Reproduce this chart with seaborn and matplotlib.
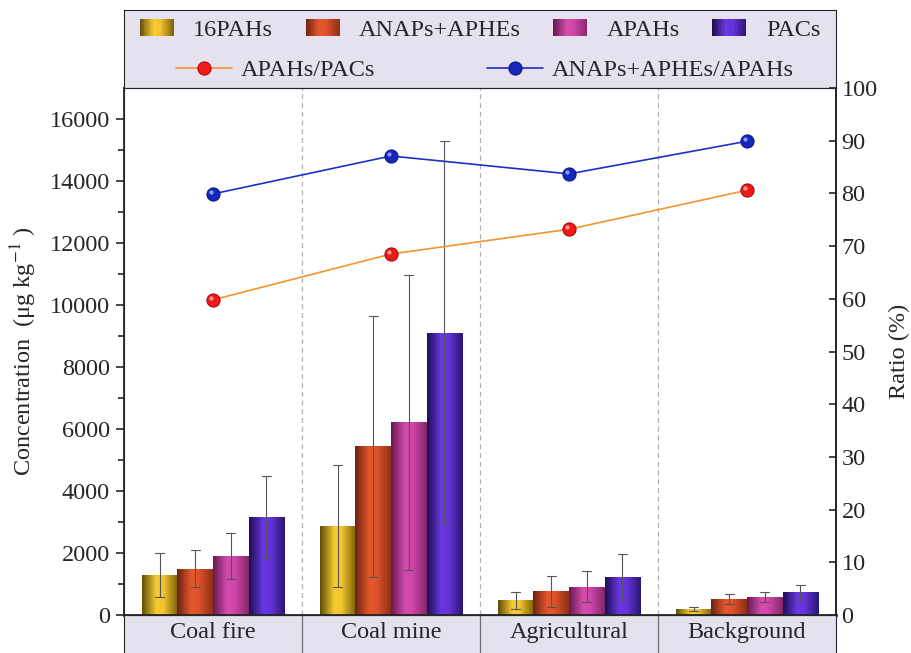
import matplotlib
matplotlib.use("Agg")
import matplotlib.pyplot as plt
import seaborn as sns
import numpy as np
import pandas as pd
from matplotlib.colors import LinearSegmentedColormap
from matplotlib.legend_handler import HandlerBase
from matplotlib.patches import Rectangle
from matplotlib.transforms import ScaledTranslation

sites = ["Coal fire", "Coal mine", "Agricultural", "Background"]
groups = ["16PAHs", "ANAPs+APHEs", "APAHs", "PACs"]

# mean concentrations (ug/kg), site order
pahs16 = [1280, 2870, 480, 200]
anaps_aphes = [1500, 5440, 760, 515]
apahs = [1890, 6220, 910, 580]
pacs = [3160, 9110, 1230, 730]

# error bar half-widths
pahs16_err = [715, 1980, 275, 70]
anaps_aphes_err = [610, 4220, 505, 170]
apahs_err = [740, 4760, 500, 165]
pacs_err = [1330, 6190, 745, 230]

# ratios (%)
ratio_apahs_pacs = [59.8, 68.5, 73.2, 80.6]
ratio_anaps_apahs = [79.9, 87.1, 83.7, 89.9]
ratio_labels = ["APAHs/PACs", "ANAPs+APHEs/APAHs"]

# bar shading: dark edge -> bright -> dark edge
shades = [
    ["#5e4c06", "#f6cb33", "#f3c52e", "#7c600a"],
    ["#6a2210", "#e4572e", "#df532b", "#8c3015"],
    ["#681850", "#d44cae", "#cf47a8", "#84266c"],
    ["#1c0e52", "#6a38e4", "#6533dc", "#2a176e"],
]
cmaps = [LinearSegmentedColormap.from_list(g, list(zip([0, 0.4, 0.6, 1], c)))
         for g, c in zip(groups, shades)]

lavender = "#e6e1ef"

sns.set_style("ticks")
plt.rcParams["font.family"] = ["Liberation Serif", "DejaVu Serif"]
plt.rcParams["mathtext.fontset"] = "stix"
FS = 17.5

rows = []
for g, means, errs in zip(groups, [pahs16, anaps_aphes, apahs, pacs],
                          [pahs16_err, anaps_aphes_err, apahs_err, pacs_err]):
    for s, m, e in zip(sites, means, errs):
        rows.append((s, g, m - e))
        rows.append((s, g, m + e))
df = pd.DataFrame(rows, columns=["site", "group", "value"])

W, H = 912, 653
L, R, T, B = 124, 836, 88, 615
fig = plt.figure(figsize=(W / 100, H / 100), dpi=100)
ax = fig.add_axes([L / W, (H - B) / H, (R - L) / W, (B - T) / H])
ax_h = fig.add_axes([L / W, (H - T) / H, (R - L) / W, (T - 10) / H])
ax_b = fig.add_axes([L / W, 0, (R - L) / W, (H - B) / H])

sns.barplot(df, x="site", y="value", hue="group", order=sites, hue_order=groups,
            palette=[c[1] for c in shades], estimator="mean",
            errorbar=lambda v: (v.min(), v.max()), capsize=0.2,
            err_kws={"linewidth": 0.8, "color": "#555555"},
            width=0.8, gap=0, legend=False, ax=ax)

grad = np.linspace(0, 1, 256).reshape(1, -1)
for cont, cmap in zip(ax.containers, cmaps):
    for bar in cont:
        x0, w, h = bar.get_x(), bar.get_width(), bar.get_height()
        im = ax.imshow(grad, cmap=cmap, aspect="auto", interpolation="bilinear",
                       extent=(x0, x0 + w, 0, h), zorder=bar.get_zorder())
        im.set_clip_path(bar)
        bar.set_facecolor("none")
        bar.set_edgecolor("none")

for i in range(len(sites) - 1):
    ax.axvline(i + 0.5, color="#b0b0b0", lw=0.9, ls=(0, (4, 3)), zorder=0)
    ax_b.axvline(i + 0.5, color="#707070", lw=0.9)

ax.set_xlim(-0.5, len(sites) - 0.5)
ax.set_ylim(0, 17000)
ax.set_yticks(np.arange(0, 16001, 2000))
ax.set_yticks(np.arange(1000, 17000, 2000), minor=True)
ax.tick_params(axis="y", which="major", length=6, width=1.2, labelsize=FS, pad=4)
ax.tick_params(axis="y", which="minor", length=4, width=1.2)
ax.tick_params(axis="x", bottom=False, labelbottom=False)
ax.set_xlabel("")
ax.set_ylabel("Concentration  (μg kg$^{-1}$ )", fontsize=FS, labelpad=8)
for s in ["left", "right", "top"]:
    ax.spines[s].set_linewidth(1.3)
ax.spines["bottom"].set_linewidth(2)

ax2 = ax.twinx()
x = np.arange(len(sites))
line_styles = [
    dict(color="#f7922e", markerfacecolor="#ee1a1a", markeredgecolor="#a80000"),
    dict(color="#1e2fc8", markerfacecolor="#1428bc", markeredgecolor="#08127a"),
]
highlights = ["#ff9a9a", "#8f9cff"]
for vals, lab, st in zip([ratio_apahs_pacs, ratio_anaps_apahs], ratio_labels, line_styles):
    sns.lineplot(x=x, y=vals, ax=ax2, lw=1.2, marker="o", markersize=9.5,
                 markeredgewidth=0.7, label=lab, legend=False, **st)
# small glossy highlight on each marker
shift = ScaledTranslation(-1.6 / 72, 1.6 / 72, fig.dpi_scale_trans)
for vals, hc in zip([ratio_apahs_pacs, ratio_anaps_apahs], highlights):
    ax2.plot(x, vals, ls="none", marker="o", ms=3, color=hc, mew=0,
             transform=ax2.transData + shift)
ax2.set_ylim(0, 100)
ax2.set_yticks(np.arange(0, 101, 10))
ax2.tick_params(axis="y", direction="in", length=5, width=1.2, labelsize=FS, pad=4)
ax2.set_ylabel("Ratio (%)", fontsize=FS, labelpad=8)
ax2.spines["right"].set_linewidth(1.3)
ax.set_xlim(-0.5, len(sites) - 0.5)

# header with legends
ax_h.set_facecolor(lavender)
ax_h.set_xticks([])
ax_h.set_yticks([])


class GradientHandler(HandlerBase):
    def __init__(self, cmap, n=24):
        super().__init__()
        self.cmap = cmap
        self.n = n

    def create_artists(self, legend, orig_handle, xdescent, ydescent,
                       width, height, fontsize, trans):
        step = width / self.n
        arts = []
        for k in range(self.n):
            r = Rectangle((-xdescent + k * step, -ydescent), step * 1.05, height,
                          facecolor=self.cmap((k + 0.5) / self.n), lw=0,
                          transform=trans)
            arts.append(r)
        return arts


hmap = {cont: GradientHandler(cm) for cont, cm in zip(ax.containers, cmaps)}
leg1 = ax_h.legend(list(ax.containers), groups, handler_map=hmap, ncol=4,
                   loc="center", bbox_to_anchor=(0.5, 0.74), frameon=False,
                   fontsize=FS, handlelength=1.4, handleheight=0.65,
                   handletextpad=0.8, columnspacing=1.33, borderpad=0)
ax_h.add_artist(leg1)
ax_h.legend(ax2.get_lines()[:2], ratio_labels, ncol=2, loc="center",
            bbox_to_anchor=(0.507, 0.23), frameon=False, fontsize=FS,
            handlelength=2.3, handletextpad=0.35, columnspacing=4.6,
            borderpad=0)

# category band
ax_b.set_facecolor(lavender)
ax_b.set_xlim(-0.5, len(sites) - 0.5)
ax_b.set_ylim(0, 1)
ax_b.set_xticks([])
ax_b.set_yticks([])
ax_b.spines["bottom"].set_visible(False)
for i, s in enumerate(sites):
    ax_b.text(i, 0.55, s, ha="center", va="center", fontsize=FS)

fig.savefig("out.png", dpi=100)
